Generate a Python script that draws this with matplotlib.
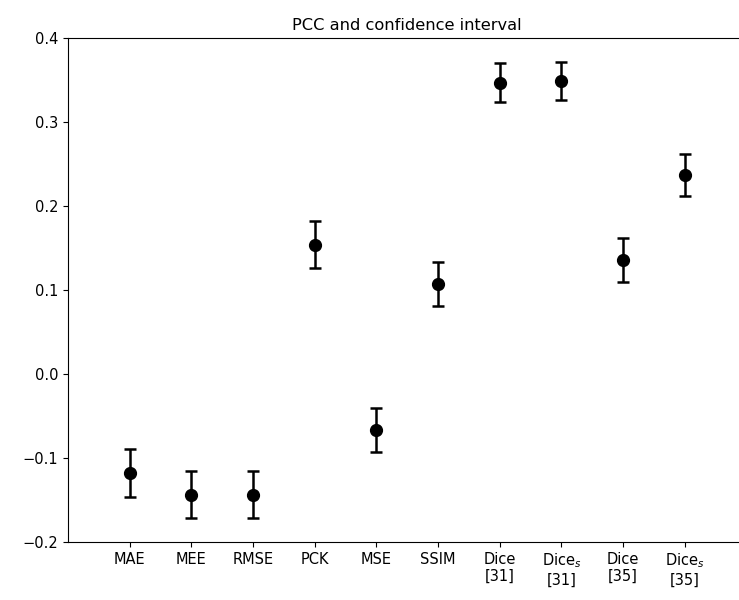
import matplotlib
matplotlib.use("Agg")
import matplotlib.pyplot as plt
import numpy as np

labels = ["MAE", "MEE", "RMSE", "PCK", "MSE", "SSIM",
          "Dice\n[31]", "Dice$_s$\n[31]", "Dice\n[35]", "Dice$_s$\n[35]"]
pcc = [-0.118, -0.144, -0.144, 0.154, -0.067, 0.107, 0.347, 0.349, 0.136, 0.237]
ci_err = [0.029, 0.028, 0.028, 0.028, 0.026, 0.026, 0.023, 0.023, 0.026, 0.025]

fig = plt.figure(figsize=(7.39, 6.0), dpi=100)
ax = fig.add_axes([0.092, 0.0967, 0.918, 0.84])

x = np.arange(1, len(labels) + 1)
ax.errorbar(x, pcc, yerr=ci_err, fmt='o', color='black', ecolor='black',
            markersize=8.5, capsize=4, elinewidth=1.8, capthick=1.8)

ax.set_xlim(0, 11)
ax.set_ylim(-0.2, 0.4)
ax.set_yticks([-0.2, -0.1, 0.0, 0.1, 0.2, 0.3, 0.4])
ax.set_xticks(x)
ax.set_xticklabels(labels, fontsize=10.5)
ax.tick_params(axis='y', labelsize=10.5)
ax.set_title("PCC and confidence interval", fontsize=11.7)

fig.savefig("out.png", dpi=100)
